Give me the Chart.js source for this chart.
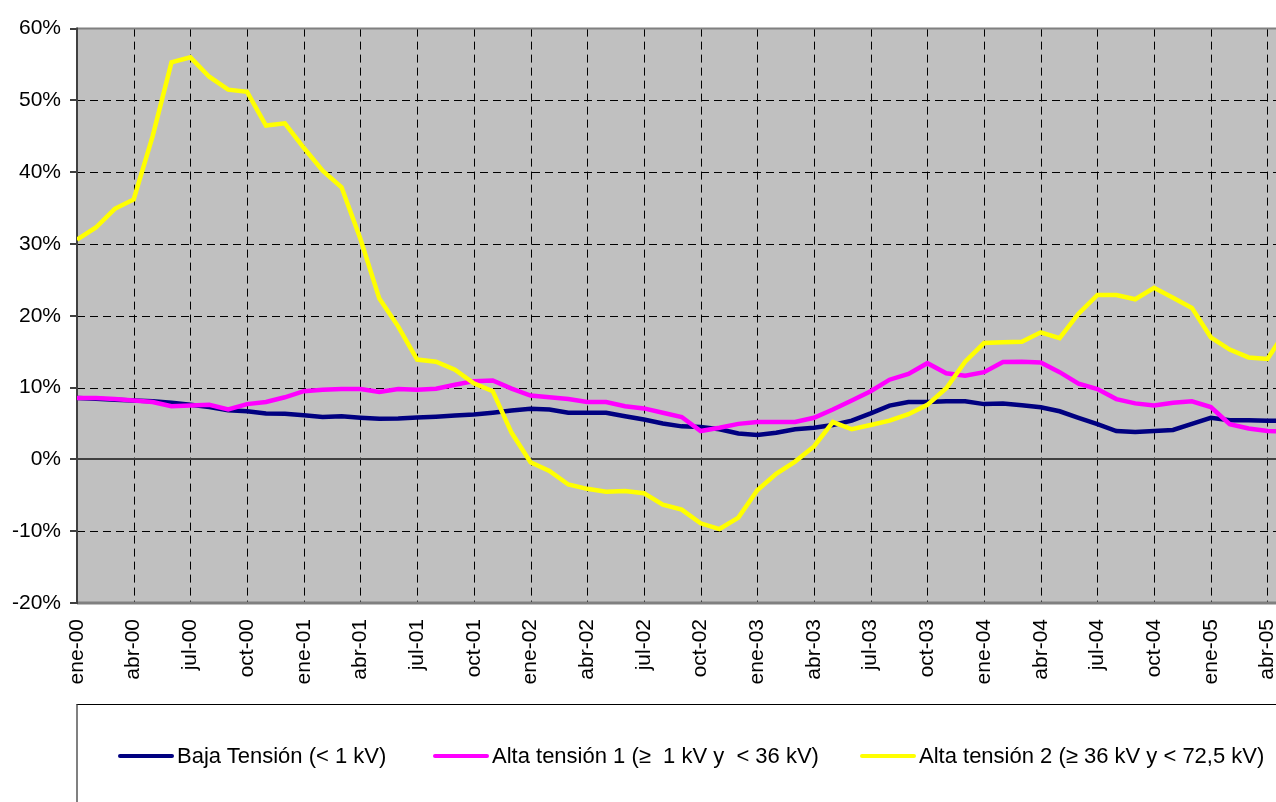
<!DOCTYPE html>
<html>
<head>
<meta charset="utf-8">
<script src="https://cdn.jsdelivr.net/npm/chart.js@4.4.1/dist/chart.umd.min.js"></script>
<style>
html,body{margin:0;padding:0;background:#fff;overflow:hidden;}
#wrap{position:relative;width:1276px;height:802px;overflow:hidden;}
#c{position:absolute;left:0;top:0;}
#legend{position:absolute;left:76px;top:704px;width:1320px;height:140px;border-top:1px solid #000;border-left:2px solid #808080;box-sizing:border-box;font-family:"Liberation Sans",Arial,sans-serif;font-size:22px;color:#000;}
.item{position:absolute;top:39px;height:24px;line-height:24px;display:flex;align-items:center;white-space:pre;}
.swatch{display:inline-block;width:56px;height:4px;border-radius:2px;margin-right:3px;}
</style>
</head>
<body>
<div id="wrap">
<canvas id="c" width="1276" height="802"></canvas>
<div id="legend"></div>
</div>
<script>
// ---- data ----
const months = [
  'ene-00','feb-00','mar-00','abr-00','may-00','jun-00','jul-00','ago-00','sep-00','oct-00','nov-00','dic-00',
  'ene-01','feb-01','mar-01','abr-01','may-01','jun-01','jul-01','ago-01','sep-01','oct-01','nov-01','dic-01',
  'ene-02','feb-02','mar-02','abr-02','may-02','jun-02','jul-02','ago-02','sep-02','oct-02','nov-02','dic-02',
  'ene-03','feb-03','mar-03','abr-03','may-03','jun-03','jul-03','ago-03','sep-03','oct-03','nov-03','dic-03',
  'ene-04','feb-04','mar-04','abr-04','may-04','jun-04','jul-04','ago-04','sep-04','oct-04','nov-04','dic-04',
  'ene-05','feb-05','mar-05','abr-05','may-05'
];
const bajaTension = [
  8.55,8.45,8.3,8.2,8.1,7.9,7.6,7.3,6.85,6.7,
  6.4,6.35,6.15,5.9,6.0,5.8,5.65,5.7,5.85,5.95,
  6.1,6.25,6.5,6.8,7.05,6.95,6.5,6.5,6.5,6.0,
  5.55,5.0,4.6,4.5,4.2,3.6,3.4,3.7,4.2,4.4,
  4.8,5.4,6.4,7.5,8.0,8.0,8.1,8.1,7.7,7.8,
  7.55,7.25,6.7,5.8,4.9,3.95,3.8,3.95,4.1,4.95,
  5.8,5.45,5.45,5.4,5.4
];
const altaTension1 = [
  8.55,8.55,8.4,8.2,8.0,7.4,7.5,7.6,6.95,7.7,
  8.0,8.65,9.5,9.7,9.8,9.8,9.4,9.8,9.7,9.85,
  10.4,10.9,11.0,9.85,8.9,8.65,8.4,8.0,8.0,7.4,
  7.1,6.5,5.9,3.95,4.4,4.95,5.2,5.2,5.2,5.8,
  6.95,8.2,9.5,11.1,11.9,13.4,12.0,11.65,12.15,13.55,
  13.6,13.5,12.15,10.55,9.8,8.4,7.8,7.5,7.9,8.1,
  7.3,4.9,4.3,3.95,3.9
];
const altaTension2 = [
  30.6,32.3,34.9,36.2,45.0,55.3,56.0,53.3,51.5,51.2,
  46.5,46.8,43.4,40.2,37.9,30.7,22.4,18.5,13.9,13.6,
  12.5,10.6,9.5,3.7,-0.4,-1.6,-3.5,-4.1,-4.5,-4.4,
  -4.7,-6.3,-7.0,-8.9,-9.7,-8.1,-4.3,-2.0,-0.3,1.8,
  5.2,4.2,4.8,5.4,6.3,7.6,9.9,13.6,16.2,16.3,
  16.4,17.7,16.9,20.3,22.9,22.9,22.3,23.9,22.5,21.1,
  17.0,15.3,14.2,14.0,18.0
];
const seriesNames = ['Baja Tensión (< 1 kV)','Alta tensión 1 (≥  1 kV y  < 36 kV)','Alta tensión 2 (≥ 36 kV y < 72,5 kV)'];
const seriesColors = ['#000080','#FF00FF','#FFFF00'];
const yTicks = [-20,-10,0,10,20,30,40,50,60];

const toPoints = arr => arr.map((v,i)=>({x:i,y:v}));

Chart.defaults.font.family = '"Liberation Sans", Arial, sans-serif';
Chart.defaults.color = '#000';

const plotDecor = {
  id:'plotDecor',
  beforeDraw(chart){
    const {ctx, chartArea:a} = chart;
    ctx.save();
    ctx.fillStyle = '#C0C0C0';
    ctx.fillRect(a.left, a.top, a.right - a.left, a.bottom - a.top);
    ctx.restore();
  },
  beforeDatasetsDraw(chart){
    const {ctx, chartArea:a, scales:{x, y}} = chart;
    ctx.save();
    ctx.lineWidth = 1;
    ctx.strokeStyle = '#000';
    ctx.setLineDash([8,5]);
    x.ticks.forEach(t=>{
      if (t.value === 0) return;
      const px = Math.round(x.getPixelForValue(t.value)) + 0.5;
      ctx.beginPath(); ctx.moveTo(px, a.top); ctx.lineTo(px, a.bottom); ctx.stroke();
    });
    y.ticks.forEach(t=>{
      if (t.value === 0 || t.value === 60 || t.value === -20) return;
      const py = Math.round(y.getPixelForValue(t.value)) + 0.5;
      ctx.beginPath(); ctx.moveTo(a.left, py); ctx.lineTo(a.right, py); ctx.stroke();
    });
    ctx.setLineDash([]);
    const y0 = Math.round(y.getPixelForValue(0));
    ctx.strokeStyle = '#404040'; ctx.lineWidth = 2;
    ctx.beginPath(); ctx.moveTo(a.left, y0); ctx.lineTo(a.right, y0); ctx.stroke();
    ctx.strokeStyle = '#808080'; ctx.lineWidth = 2;
    ctx.beginPath(); ctx.moveTo(a.left, a.top); ctx.lineTo(a.right, a.top); ctx.stroke();
    ctx.lineWidth = 3;
    ctx.beginPath(); ctx.moveTo(a.left, a.bottom); ctx.lineTo(a.right, a.bottom); ctx.stroke();
    ctx.strokeStyle = '#404040'; ctx.lineWidth = 2;
    ctx.beginPath(); ctx.moveTo(a.left, a.top - 1); ctx.lineTo(a.left, a.bottom + 1); ctx.stroke();
    y.ticks.forEach(t=>{
      const py = Math.round(y.getPixelForValue(t.value));
      ctx.beginPath(); ctx.moveTo(a.left - 7, py); ctx.lineTo(a.left, py); ctx.stroke();
    });
    ctx.restore();
  }
};

const chart = new Chart(document.getElementById('c'), {
  type:'line',
  data:{
    datasets:[
      {label:seriesNames[0], data:toPoints(bajaTension), borderColor:seriesColors[0], backgroundColor:seriesColors[0], borderWidth:4.5, pointRadius:0, tension:0, order:2},
      {label:seriesNames[1], data:toPoints(altaTension1), borderColor:seriesColors[1], backgroundColor:seriesColors[1], borderWidth:4.5, pointRadius:0, tension:0, order:1},
      {label:seriesNames[2], data:toPoints(altaTension2), borderColor:seriesColors[2], backgroundColor:seriesColors[2], borderWidth:4.5, pointRadius:0, tension:0, order:0}
    ]
  },
  options:{
    responsive:false,
    animation:false,
    layout:{padding:{top:25,left:0,right:0,bottom:0}},
    plugins:{legend:{display:false}, tooltip:{enabled:false}},
    scales:{
      x:{
        type:'linear',
        min:0, max:63.45,
        grid:{display:false, drawTicks:false},
        border:{display:false},
        ticks:{
          stepSize:3, autoSkip:false, includeBounds:false,
          minRotation:90, maxRotation:90, padding:16,
          font:{size:21},
          callback:(v)=> (Number.isInteger(v) && v % 3 === 0) ? months[v] : ''
        },
        afterFit(s){ s.height = 199; s.paddingLeft = 0; s.paddingRight = 0; }
      },
      y:{
        min:-20, max:60,
        afterBuildTicks(s){ s.ticks = yTicks.map(v=>({value:v})); },
        grid:{display:false, drawTicks:false},
        border:{display:false},
        ticks:{padding:16, font:{size:21}, callback:(v)=> v + '%'},
        afterFit(s){ s.width = 77; }
      }
    }
  },
  plugins:[plotDecor]
});

const legendLefts = [40, 355, 782];
const leg = document.getElementById('legend');
chart.data.datasets.forEach((ds, i)=>{
  const it = document.createElement('div');
  it.className = 'item';
  it.style.left = legendLefts[i] + 'px';
  const sw = document.createElement('span');
  sw.className = 'swatch';
  sw.style.background = ds.borderColor;
  const tx = document.createElement('span');
  tx.textContent = ds.label;
  it.appendChild(sw); it.appendChild(tx);
  leg.appendChild(it);
});
</script>
</body>
</html>
